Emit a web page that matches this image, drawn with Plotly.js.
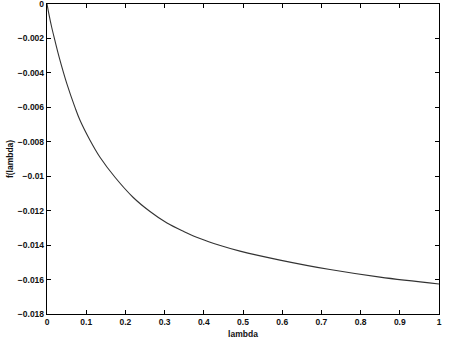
<!DOCTYPE html>
<html>
<head>
<meta charset="utf-8">
<script src="https://cdn.plot.ly/plotly-3.0.1.min.js"></script>
<style>html,body{margin:0;padding:0;background:#fff;}#plot{width:467px;height:353px;}</style>
</head>
<body>
<div id="plot"></div>
<script>
const lambda = [0, 0.005, 0.012, 0.02, 0.0306, 0.051, 0.0714, 0.0842, 0.1097, 0.1352, 0.1735, 0.2194, 0.2628, 0.3061, 0.35, 0.3903, 0.44, 0.4923, 0.5944, 0.7219, 0.8495, 1.0];
const fLambda = [0, -0.0006, -0.00135, -0.0021, -0.00305, -0.00465, -0.0060, -0.00675, -0.00791, -0.0089, -0.01006, -0.01122, -0.01205, -0.01272, -0.01322, -0.01362, -0.01401, -0.01435, -0.01487, -0.01542, -0.01586, -0.01626];
const xTickVals = [0, 0.1, 0.2, 0.3, 0.4, 0.5, 0.6, 0.7, 0.8, 0.9, 1];
const xTickText = ["0", "0.1", "0.2", "0.3", "0.4", "0.5", "0.6", "0.7", "0.8", "0.9", "1"];
const yTickVals = [0, -0.002, -0.004, -0.006, -0.008, -0.01, -0.012, -0.014, -0.016, -0.018];
const yTickText = ["0", "\u22120.002", "\u22120.004", "\u22120.006", "\u22120.008", "\u22120.01", "\u22120.012", "\u22120.014", "\u22120.016", "\u22120.018"];

const font = {family: "Liberation Sans, Arial, sans-serif", size: 8.5, color: "#111", weight: "bold"};

Plotly.newPlot("plot", [{
  x: lambda, y: fLambda, type: "scatter", mode: "lines",
  line: {color: "#333", width: 1.1, shape: "spline", smoothing: 1},
  hoverinfo: "skip"
}], {
  width: 467, height: 353,
  margin: {l: 47, r: 28, t: 4, b: 39},
  paper_bgcolor: "#fff", plot_bgcolor: "#fff",
  showlegend: false,
  font: font,
  xaxis: {
    range: [0, 1], tickvals: xTickVals, ticktext: xTickText,
    ticks: "inside", ticklen: 4, tickcolor: "#000", mirror: "ticks",
    showline: true, linecolor: "#000", linewidth: 1.2, showgrid: false, zeroline: false,
    tickfont: font, ticklabeloverflow: "allow",
    title: {text: "lambda", font: {family: "Liberation Sans, Arial, sans-serif", size: 8.5, color: "#111", weight: "bold"}, standoff: 4}
  },
  yaxis: {
    range: [-0.018, 0], tickvals: yTickVals, ticktext: yTickText,
    ticks: "inside", ticklen: 4, tickcolor: "#000", mirror: "ticks",
    showline: true, linecolor: "#000", linewidth: 1.2, showgrid: false, zeroline: false,
    tickfont: font, ticklabeloverflow: "allow",
    title: {text: "f(lambda)", font: {family: "Liberation Sans, Arial, sans-serif", size: 8.5, color: "#111", weight: "bold"}, standoff: 2}
  }
}, {staticPlot: true, displayModeBar: false});
</script>
</body>
</html>
